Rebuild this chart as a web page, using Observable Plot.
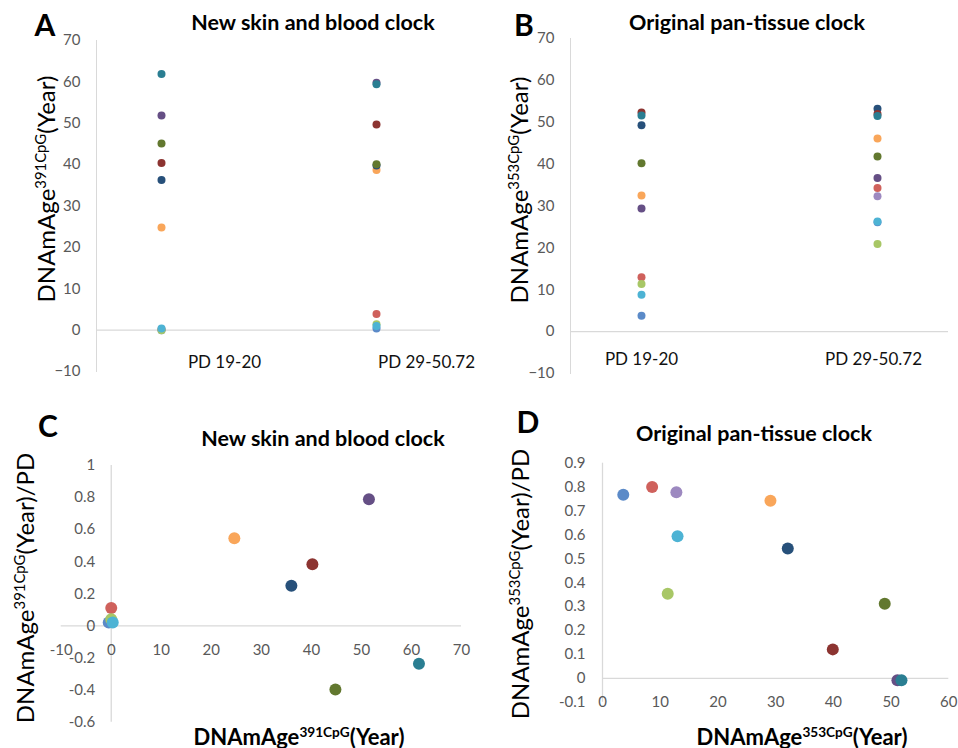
<!DOCTYPE html>
<html>
<head>
<meta charset="utf-8">
<script src="https://cdn.jsdelivr.net/npm/d3@7"></script>
<script src="https://cdn.jsdelivr.net/npm/@observablehq/plot@0.6"></script>
<style>
  html, body { margin: 0; padding: 0; background: #fff; }
  #root { position: relative; width: 958px; height: 748px; overflow: hidden; font-family: Lato, "Open Sans", sans-serif; }
  #root svg { position: absolute; }
  .lbl { position: absolute; white-space: nowrap; transform: translate(-50%, -50%); color: #000; }
  .rot { transform: translate(-50%, -50%) rotate(-90deg); }
  .letter { font-weight: bold; font-size: 30px; }
  .title { font-weight: bold; font-size: 21.5px; }
  .ytitle { font-size: 24px; }
  .xtitle { font-size: 22px; font-weight: bold; }
  sup { font-size: 0.62em; vertical-align: 0.55em; line-height: 0; }
</style>
</head>
<body>
<div id="root"></div>
<script>
// ---------- data ----------
const sampleIds   = ["blue", "red", "green", "lightpurple", "aqua", "orange", "navy", "darkred", "olive", "darkpurple", "teal"];
const sampleColors = ["#5B8AC8", "#CF615C", "#A8C766", "#9D89C0", "#4DB3D4", "#F9A65A", "#27507A", "#8C3431", "#62782F", "#654F85", "#2A7E92"];
const stages = ["PD 19-20", "PD 29-50.72"];

// Panel A: new skin and blood clock (391 CpG), years; null = not shown
const skinEarly = [0.0, 0.2, 0.0, null, 0.4, 24.8, 36.3, 40.4, 45.1, 51.9, 61.9];
const skinLate  = [0.4, 3.9, 1.4, null, 1.0, 38.7, 39.8, 49.7, 40.1, 59.8, 59.4];

// Panel B: original pan-tissue clock (353 CpG), years
const panEarly = [3.8, 13.0, 11.4, null, 8.8, 32.5, 49.3, 52.3, 40.2, 29.4, 51.6];
const panLate  = [26.1, 34.3, 20.9, 32.3, 26.3, 46.1, 53.2, 52.0, 41.8, 36.7, 51.5];

// Panel C: skin and blood clock age vs age/PD
const skinAgeC  = [-0.5, 0.0, 0.0, null, 0.3, 24.6, 36.0, 40.2, 44.8, 51.5, 61.5];
const skinRateC = [0.021, 0.112, 0.042, null, 0.021, 0.547, 0.25, 0.385, -0.396, 0.79, -0.236];

// Panel D: pan-tissue clock age vs age/PD
const panAgeD  = [3.6, 8.6, 11.3, 12.8, 13.0, 29.1, 32.1, 39.9, 48.9, 51.1, 51.8];
const panRateD = [0.768, 0.80, 0.354, 0.778, 0.594, 0.743, 0.543, 0.121, 0.312, -0.008, -0.008];

// tick labels
const ticksAB  = [-10, 0, 10, 20, 30, 40, 50, 60, 70];
const ticksCy  = [-0.6, -0.4, -0.2, 0, 0.2, 0.4, 0.6, 0.8, 1];
const ticksCx  = [-10, 0, 10, 20, 30, 40, 50, 60, 70];
const ticksDy  = [-0.1, 0, 0.1, 0.2, 0.3, 0.4, 0.5, 0.6, 0.7, 0.8, 0.9];
const ticksDx  = [0, 10, 20, 30, 40, 50, 60];

// ---------- tables ----------
function stageTable(early, late) {
  const rows = [];
  sampleIds.forEach((id, i) => {
    if (early[i] != null) rows.push({id, color: sampleColors[i], stage: stages[0], v: early[i]});
  });
  sampleIds.forEach((id, i) => {
    if (late[i] != null) rows.push({id, color: sampleColors[i], stage: stages[1], v: late[i]});
  });
  return rows;
}
function xyTable(xs, ys) {
  const rows = [];
  sampleIds.forEach((id, i) => {
    if (xs[i] != null && ys[i] != null) rows.push({id, color: sampleColors[i], x: xs[i], y: ys[i]});
  });
  return rows;
}

const FONT = "Lato, 'Open Sans', sans-serif";
const AXIS = "#D9D9D9";
const TICK = "#595959";
const root = document.getElementById("root");

function place(svg, left, top) {
  svg.style.left = left + "px";
  svg.style.top = top + "px";
  root.appendChild(svg);
}
function label(html, cls, x, y) {
  const d = document.createElement("div");
  d.className = "lbl " + cls;
  d.innerHTML = html;
  d.style.left = x + "px";
  d.style.top = y + "px";
  root.appendChild(d);
}

function stagePlot(rows, mLeft, mRight, mTop, mBottom, labelDx, labelDy) {
  return Plot.plot({
    width: 480, height: 390,
    marginLeft: mLeft, marginRight: mRight, marginTop: mTop, marginBottom: mBottom,
    style: {fontFamily: FONT, background: "transparent", overflow: "visible"},
    x: {type: "point", domain: stages, padding: 0.3, axis: null},
    y: {domain: [-10, 70], axis: null},
    color: {type: "identity"},
    marks: [
      Plot.frame({anchor: "left", stroke: AXIS}),
      Plot.ruleY([0], {stroke: AXIS, strokeWidth: 1.3}),
      Plot.axisY({ticks: ticksAB, tickSize: 0, tickPadding: 16, fontSize: 15, color: TICK, label: null}),
      ...stages.map((s, i) => Plot.text([s], {x: d => d, y: () => 0, dx: labelDx[i], dy: labelDy, fontSize: 17, fill: "#111"})),
      Plot.dot(rows, {x: "stage", y: "v", r: 4, fill: "color"})
    ]
  });
}

// Panel A
place(stagePlot(stageTable(skinEarly, skinLate), 96, 40, 40, 19, [63, 50], 32), 0, 0);
// Panel B
place(stagePlot(stageTable(panEarly, panLate), 90, 12, 38, 17, [0, -4], 28), 480, 0);

// Panel C
place(Plot.plot({
  width: 480, height: 358,
  marginLeft: 60.7, marginRight: 19, marginTop: 75, marginBottom: 26.3,
  style: {fontFamily: FONT, background: "transparent", overflow: "visible"},
  x: {domain: [-10, 70], axis: null},
  y: {domain: [-0.6, 1], axis: null},
  color: {type: "identity"},
  marks: [
    Plot.ruleY([0], {stroke: AXIS, strokeWidth: 1.3}),
    Plot.ruleX([0], {stroke: AXIS, strokeWidth: 1.3}),
    Plot.text(ticksCy, {x: () => 0, y: d => d, text: d => String(d), textAnchor: "end", dx: -16, fontSize: 15, fill: TICK}),
    Plot.text(ticksCx, {x: d => d, y: () => 0, text: d => String(d), dy: 24, fontSize: 15, fill: TICK}),
    Plot.dot(xyTable(skinAgeC, skinRateC), {x: "x", y: "y", r: 6, fill: "color"})
  ]
}), 0, 390);

// Panel D
place(Plot.plot({
  width: 480, height: 358,
  marginLeft: 122, marginRight: 11.7, marginTop: 72.7, marginBottom: 46.3,
  style: {fontFamily: FONT, background: "transparent", overflow: "visible"},
  x: {domain: [0, 60], axis: null},
  y: {domain: [-0.1, 0.9], axis: null},
  color: {type: "identity"},
  marks: [
    Plot.ruleY([0], {stroke: AXIS, strokeWidth: 1.3}),
    Plot.ruleX([0], {stroke: AXIS, strokeWidth: 1.3}),
    Plot.text(ticksDy, {x: () => 0, y: d => d, text: d => String(d), textAnchor: "end", dx: -17, fontSize: 15, fill: TICK}),
    Plot.text(ticksDx, {x: d => d, y: () => 0, text: d => String(d), dy: 24, fontSize: 15, fill: TICK}),
    Plot.dot(xyTable(panAgeD, panRateD), {x: "x", y: "y", r: 6, fill: "color"})
  ]
}), 480, 390);

// ---------- titles & labels ----------
label("A", "letter", 45, 24);
label("B", "letter", 524, 24);
label("C", "letter", 48, 425);
label("D", "letter", 528, 421);
label("New skin and blood clock", "title", 313, 22);
label("Original pan-tissue clock", "title", 747, 22);
label("New skin and blood clock", "title", 323, 438);
label("Original pan-tissue clock", "title", 754, 433);
label("DNAmAge<sup>391CpG</sup>(Year)", "ytitle rot", 45, 189);
label("DNAmAge<sup>353CpG</sup>(Year)", "ytitle rot", 518, 190);
label("DNAmAge<sup>391CpG</sup>(Year)/PD", "ytitle rot", 24, 588);
label("DNAmAge<sup>353CpG</sup>(Year)/PD", "ytitle rot", 519, 584);
label("DNAmAge<sup>391CpG</sup>(Year)", "xtitle", 299, 736);
label("DNAmAge<sup>353CpG</sup>(Year)", "xtitle", 802, 736);
</script>
</body>
</html>
